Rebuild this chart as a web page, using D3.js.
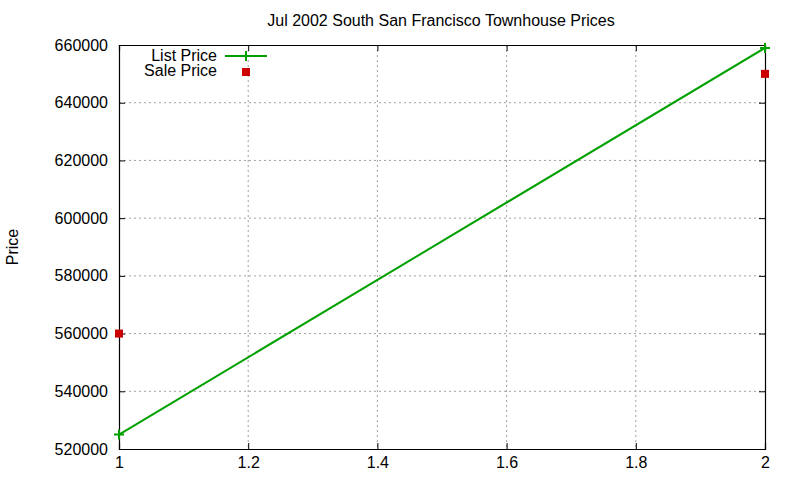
<!DOCTYPE html>
<html>
<head>
<meta charset="utf-8">
<script src="https://cdn.jsdelivr.net/npm/d3@7"></script>
<style>
  body { margin: 0; background: #fff; }
  text { font-family: "Liberation Sans", Arial, sans-serif; font-size: 16px; fill: #000; }
</style>
</head>
<body>
<svg id="chart" width="800" height="480"></svg>
<script>
// data
const listX = [1, 2];
const listPrice = [525000, 659000];
const saleX = [1, 2];
const salePrice = [560000, 650000];
const xTicks = [1, 1.2, 1.4, 1.6, 1.8, 2];
const yTicks = [520000, 540000, 560000, 580000, 600000, 620000, 640000, 660000];

const svg = d3.select("#chart");
const margin = {left: 119, right: 35, top: 45, bottom: 31};
const width = 800 - margin.left - margin.right;
const height = 480 - margin.top - margin.bottom;

const x = d3.scaleLinear().domain([1, 2]).range([0, width]);
const y = d3.scaleLinear().domain([520000, 660000]).range([height, 0]);

const g = svg.append("g").attr("transform", `translate(${margin.left},${margin.top})`);

// grid
g.append("g").selectAll("line").data(xTicks.slice(1, -1)).enter().append("line")
  .attr("x1", d => x(d)).attr("x2", d => x(d))
  .attr("y1", 0).attr("y2", height)
  .attr("stroke", "#a0a0a0").attr("stroke-dasharray", "2,3");
g.append("g").selectAll("line").data(yTicks.slice(1, -1)).enter().append("line")
  .attr("x1", 0).attr("x2", width)
  .attr("y1", d => y(d)).attr("y2", d => y(d))
  .attr("stroke", "#a0a0a0").attr("stroke-dasharray", "2,3");

// axes, ticks pointing inward like gnuplot
const xAxis = g.append("g").attr("transform", `translate(0,${height})`)
  .call(d3.axisBottom(x).tickValues(xTicks).tickSize(-6).tickPadding(14).tickFormat(d3.format("")));
const xTop = g.append("g")
  .call(d3.axisTop(x).tickValues(xTicks).tickSize(-6).tickFormat(""));
const yAxis = g.append("g")
  .call(d3.axisLeft(y).tickValues(yTicks).tickSize(-6).tickPadding(11).tickFormat(d3.format("d")));
const yRight = g.append("g").attr("transform", `translate(${width},0)`)
  .call(d3.axisRight(y).tickValues(yTicks).tickSize(-6).tickFormat(""));

[xAxis, xTop, yAxis, yRight].forEach(a => {
  a.select(".domain").attr("stroke", "#000").attr("stroke-width", 1.2);
  a.selectAll(".tick line").attr("stroke", "#000");
  a.selectAll("text").attr("font-family", null).attr("font-size", null).attr("fill", "#000");
});
xAxis.selectAll(".tick text").attr("dy", "0.32em");

// list price line
const green = "#00a000";
const red = "#cc0000";
const listData = listX.map((d, i) => ({x: d, y: listPrice[i]}));
g.append("path").datum(listData)
  .attr("fill", "none").attr("stroke", green).attr("stroke-width", 2)
  .attr("d", d3.line().x(d => x(d.x)).y(d => y(d.y)));
g.append("g").selectAll("path").data(listData).enter().append("path")
  .attr("transform", d => `translate(${x(d.x)},${y(d.y)})`)
  .attr("d", "M-5,0H5M0,-5V5").attr("stroke", green).attr("stroke-width", 2);

// sale price points
const saleData = saleX.map((d, i) => ({x: d, y: salePrice[i]}));
g.append("g").selectAll("rect").data(saleData).enter().append("rect")
  .attr("x", d => x(d.x) - 4).attr("y", d => y(d.y) - 4)
  .attr("width", 8).attr("height", 8).attr("fill", red);

// legend
const leg = svg.append("g");
leg.append("text").attr("x", 217).attr("y", 55).attr("dy", "0.35em").attr("text-anchor", "end").text("List Price");
leg.append("line").attr("x1", 225).attr("x2", 267).attr("y1", 56).attr("y2", 56).attr("stroke", green).attr("stroke-width", 2);
leg.append("path").attr("transform", "translate(246,56)").attr("d", "M-5,0H5M0,-5V5").attr("stroke", green).attr("stroke-width", 2);
leg.append("text").attr("x", 217).attr("y", 70).attr("dy", "0.35em").attr("text-anchor", "end").text("Sale Price");
leg.append("rect").attr("x", 242).attr("y", 68).attr("width", 8).attr("height", 8).attr("fill", red);

// title and y label
svg.append("text").attr("x", 441).attr("y", 20).attr("dy", "0.35em").attr("text-anchor", "middle")
  .text("Jul 2002 South San Francisco Townhouse Prices");
svg.append("text").attr("transform", "translate(12,247) rotate(-90)").attr("dy", "0.35em")
  .attr("text-anchor", "middle").text("Price");
</script>
</body>
</html>
